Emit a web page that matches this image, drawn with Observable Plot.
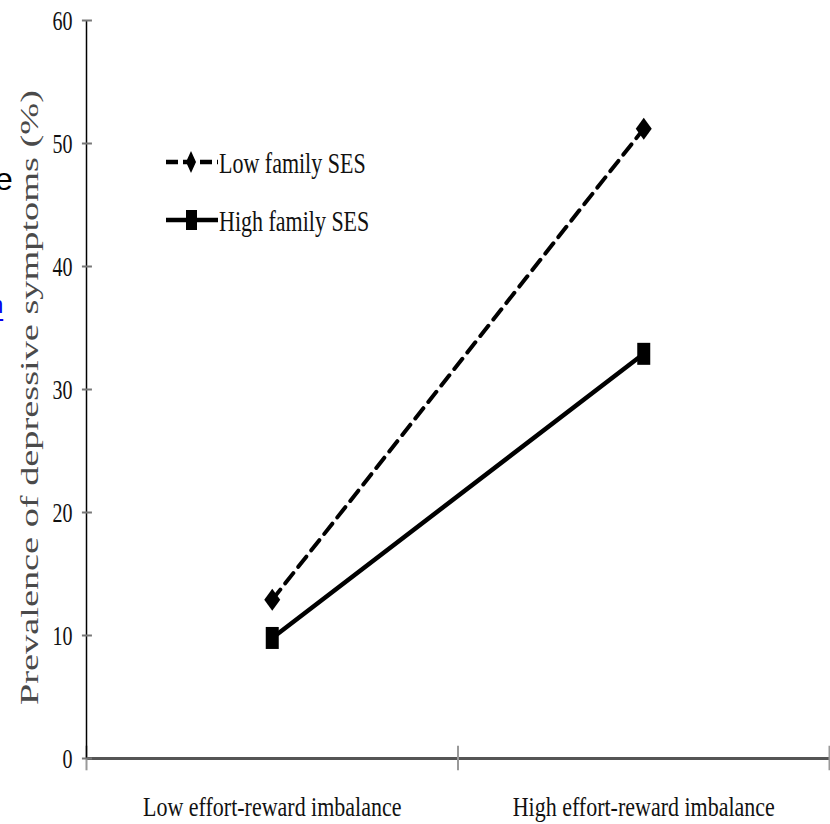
<!DOCTYPE html>
<html>
<head>
<meta charset="utf-8">
<script src="https://cdn.jsdelivr.net/npm/d3@7"></script>
<script src="https://cdn.jsdelivr.net/npm/@observablehq/plot@0.6"></script>
<style>
  body { margin: 0; background: #fff; }
  #wrap { position: relative; width: 830px; height: 824px; overflow: hidden; background: #fff; }
  #overlay { position: absolute; left: 0; top: 0; pointer-events: none; }
  #bleed { position: absolute; left: -9.5px; top: 293.5px; font: 23px/1 "Liberation Sans", Arial, sans-serif; color: #0000ee; text-decoration: underline; text-underline-offset: 6px; }
</style>
</head>
<body>
<div id="wrap"></div>
<script>
// ---- data ----
const categories = ["Low effort-reward imbalance", "High effort-reward imbalance"];
const seriesNames = ["Low family SES", "High family SES"];
const lowSES = [12.9, 51.2];
const highSES = [9.8, 32.9];
const yTicks = [0, 10, 20, 30, 40, 50, 60];
const yLabel = "Prevalence of depressive symptoms (%)";

// ---- rows for the library ----
const lowRows = categories.map((c, i) => ({pos: i + 0.5, category: c, value: lowSES[i], series: seriesNames[0]}));
const highRows = categories.map((c, i) => ({pos: i + 0.5, category: c, value: highSES[i], series: seriesNames[1]}));
const boundaries = d3.range(categories.length + 1);
const centers = categories.map((c, i) => i + 0.5);

// custom marker shapes (tall, like the reference)
const diamondSym = {draw(ctx) { ctx.moveTo(0, -11); ctx.lineTo(8, 0); ctx.lineTo(0, 11); ctx.lineTo(-8, 0); ctx.closePath(); }};
const rectSym = {draw(ctx) { ctx.rect(-6.5, -11, 13, 22); }};

const serif = "'Liberation Serif', 'Times New Roman', serif";

const chart = Plot.plot({
  width: 830,
  height: 824,
  marginLeft: 86,
  marginRight: 1,
  marginTop: 20,
  marginBottom: 66,
  x: {type: "linear", domain: [0, categories.length], axis: null},
  y: {domain: [0, 60], axis: null},
  style: {fontFamily: serif, background: "#fff", color: "#000"},
  marks: [
    Plot.ruleY([0], {stroke: "#555", strokeWidth: 3}),
    Plot.ruleX(boundaries, {y1: -1, y2: 1, stroke: "#999", strokeWidth: 2}),
    Plot.ruleX([0], {y1: 0, y2: 60, stroke: "#000", strokeWidth: 1.5}),
    Plot.ruleY(yTicks, {x1: -0.011, x2: 0.016, stroke: "#777", strokeWidth: 2}),
    Plot.axisY(yTicks, {tickSize: 0, tickPadding: 14, fontSize: 20, label: null, fill: "#111"}),
    Plot.axisX(centers, {tickSize: 0, tickPadding: 40, fontSize: 22, label: null, fill: "#111",
      tickFormat: d => categories[Math.floor(d)]}),
    Plot.text([yLabel], {text: d => d, frameAnchor: "left", dx: -57, dy: 8, rotate: -90, fontSize: 25, fill: "#4a4a4a"}),
    Plot.line(highRows, {x: "pos", y: "value", stroke: "#000", strokeWidth: 4.5}),
    Plot.line(lowRows, {x: "pos", y: "value", stroke: "#000", strokeWidth: 4, strokeDasharray: "13,8"}),
    Plot.dot(lowRows, {x: "pos", y: "value", symbol: diamondSym, fill: "#000", stroke: "none"}),
    Plot.dot(highRows, {x: "pos", y: "value", symbol: rectSym, fill: "#000", stroke: "none"})
  ]
});

const wrap = document.getElementById("wrap");
wrap.appendChild(chart);

// stretch text vertically (reference glyphs are tall/narrow); stretch y label along its length
d3.select(chart).selectAll("text").each(function() {
  const t = this;
  if (t.textContent === yLabel) {
    t.setAttribute("text-anchor", "start");
    t.setAttribute("x", -307.5);
    t.setAttribute("textLength", 615);
    t.setAttribute("lengthAdjust", "spacingAndGlyphs");
    return;
  }
  const S = categories.includes(t.textContent) ? 1.26 : 1.4;
  const bb = t.getBBox();
  const cy = bb.y + bb.height / 2;
  const old = t.getAttribute("transform") || "";
  t.setAttribute("transform", `${old} translate(0,${cy}) scale(1,${S}) translate(0,${-cy})`);
});

// ---- legend overlay ----
const S = 1.35;
const ov = d3.select(wrap).append("svg").attr("id", "overlay").attr("width", 830).attr("height", 824);
const leg = [
  {name: seriesNames[0], y: 162, dash: "12,5", shape: "diamond"},
  {name: seriesNames[1], y: 220, dash: null, shape: "rect"}
];
leg.forEach(d => {
  ov.append("line").attr("x1", 166).attr("x2", 218).attr("y1", d.y).attr("y2", d.y)
    .attr("stroke", "#000").attr("stroke-width", 4.5).attr("stroke-dasharray", d.dash);
  if (d.shape === "diamond") {
    ov.append("path").attr("d", `M191,${d.y - 11}L196,${d.y}L191,${d.y + 11}L186,${d.y}Z`).attr("fill", "#000");
  } else {
    ov.append("rect").attr("x", 186).attr("y", d.y - 10).attr("width", 11).attr("height", 20).attr("fill", "#000");
  }
  ov.append("text").attr("transform", `translate(219,${d.y + 1}) scale(1,${S})`)
    .attr("dy", "0.35em").attr("font-family", serif).attr("font-size", 22).attr("fill", "#111")
    .text(d.name);
});
// page bleed fragments at the left edge
ov.append("text").attr("x", -5).attr("y", 190).attr("font-family", "'Liberation Sans', Arial, sans-serif")
  .attr("font-size", 32).attr("fill", "#000").text("e");
d3.select(wrap).append("span").attr("id", "bleed").text("n");
</script>
</body>
</html>
